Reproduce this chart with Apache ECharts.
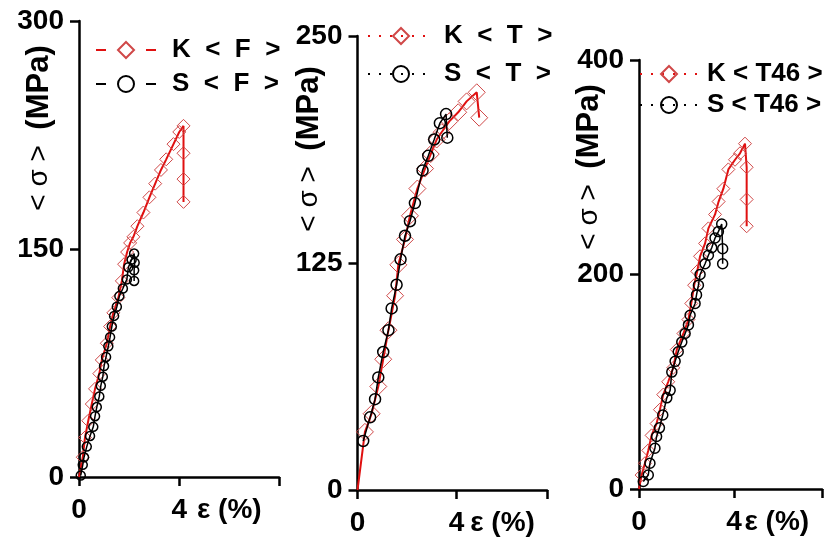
<!DOCTYPE html>
<html><head><meta charset="utf-8">
<script src="https://cdn.jsdelivr.net/npm/echarts@6/dist/echarts.min.js"></script>
<style>html,body{margin:0;padding:0;background:#fff}#c{width:824px;height:538px}</style>
</head><body><div id="c"></div>
<script>
// Panel 1: < F >
const kF_strain = [0,0.15,0.24,0.37,0.51,0.64,0.81,0.91,1.11,1.24,1.37,1.57,1.71,1.80,1.92,2.04,2.17,2.33,2.57,2.81,3.04,3.27,3.48,3.77,4.00,4.17,4.17,4.17,4.17];
const kF_stress = [0,13,26,37,48,58,68,77,88,99,108,118,129,140,148,154,158,165,174,184,193,202,209,219,227,231,213,196,181];
const sF_strain = [0.07,0.15,0.20,0.31,0.44,0.57,0.64,0.71,0.81,0.87,0.95,1.00,1.08,1.17,1.24,1.31,1.40,1.51,1.61,1.75,1.91,1.97,2.10,2.20,2.22,2.20,2.20];
const sF_stress = [1,8,13,20,27,33,40,46,53,60,66,73,79,86,92,99,106,112,119,124,130,138,143,147,141,136,129];
// Panel 2: < T >
const kT_strain = [0,0.30,0.57,0.84,1.04,1.25,1.52,1.65,1.92,2.12,2.42,2.73,2.96,3.20,3.40,3.71,4.07,4.41,4.82,4.92];
const kT_stress = [0,32,42,57,72,88,107,124,138,151,166,177,185,193,197,203,208,214,219,205];
const sT_strain = [0.23,0.51,0.71,0.84,1.04,1.25,1.38,1.58,1.74,1.92,2.12,2.32,2.63,2.86,3.10,3.33,3.58,3.63];
const sT_stress = [27,40,50,62,76,88,100,113,127,140,148,158,176,184,193,202,207,194];
// Panel 3: < T46 >
const kT46_strain = [0,0.11,0.25,0.39,0.53,0.74,0.88,1.02,1.23,1.44,1.59,1.87,2.08,2.20,2.32,2.45,2.57,2.78,2.92,3.20,3.35,3.55,3.76,4.04,4.25,4.46,4.53,4.53,4.53];
const kT46_stress = [0,13,24,36,50,61,74,88,100,113,130,145,158,173,190,203,217,229,243,256,268,280,298,307,313,322,300,270,245];
const sT46_strain = [0.18,0.39,0.46,0.67,0.74,0.86,1.00,1.17,1.31,1.38,1.52,1.65,1.80,1.94,2.08,2.15,2.36,2.42,2.50,2.57,2.78,2.92,3.06,3.20,3.34,3.48,3.52,3.52];
const sT46_stress = [7,13,24,38,49,57,69,85,92,109,119,128,137,145,153,162,173,181,190,200,210,218,225,234,240,247,224,210];

const yTicks = [[0,300,150],[0,250,125],[0,400,200]];
const xTickLabels = ['0','4'];
const names = [['K  <  F  >','S  <  F  >'],['K  <  T  >','S  <  T  >'],['K < T46 >','S < T46 >']];

const FONT = '"Liberation Sans", Arial, sans-serif';
const pairs = (xs, ys) => xs.map((x, i) => (i === 0 && ys[i] === 0) ? {value: [x, ys[i]], symbol: 'none'} : [x, ys[i]]);

const grids = [
  {left:79, top:21, width:200, height:456, outerBoundsMode:'none', containLabel:false},
  {left:357.5, top:36, width:189.5, height:454, outerBoundsMode:'none', containLabel:false},
  {left:639, top:60, width:183, height:429, outerBoundsMode:'none', containLabel:false}
];
const xMax = [7.98, 7.66, 7.7];
const xNamePad = [18, 18, 14];
const yNamePad = [242, 228, 215];
const yNameGap = [24, 33, 34];

const xAxes = grids.map((g, i) => ({
  gridIndex: i, type: 'value', min: 0, max: xMax[i], interval: 4,
  axisLine: {onZero: false, lineStyle: {color: '#000', width: 2.5}},
  axisTick: {length: 9, lineStyle: {color: '#000', width: 2.5}},
  splitLine: {show: false},
  axisLabel: {margin: 19, fontSize: 28, fontWeight: 'bold', color: '#000', fontFamily: FONT,
    formatter: v => xTickLabels.indexOf(String(v)) >= 0 ? String(v) : ''},
  name: 'ε (%)', nameLocation: 'middle', nameGap: 19, nameMoveOverlap: false,
  nameTextStyle: {fontSize: 28, fontWeight: 'bold', color: '#000', fontFamily: FONT, align: 'left', verticalAlign: 'top', padding: [0, 0, 0, xNamePad[i]]}
}));
const yAxes = grids.map((g, i) => ({
  gridIndex: i, type: 'value', min: yTicks[i][0], max: yTicks[i][1], interval: yTicks[i][2],
  axisLine: {onZero: false, lineStyle: {color: '#000', width: 2.5}},
  axisTick: {length: 9, lineStyle: {color: '#000', width: 2.5}},
  splitLine: {show: false},
  axisLabel: {margin: 15, fontSize: 28, fontWeight: 'bold', color: '#000', fontFamily: FONT},
  name: '{n|< σ >}  {b|(MPa)}', nameLocation: 'middle', nameGap: yNameGap[i], nameMoveOverlap: false,
  nameTextStyle: {color: '#000', fontFamily: FONT, fontSize: 28, padding: [0, 0, 0, yNamePad[i]],
    rich: {n: {fontSize: 28, fontWeight: 'normal', color: '#000', fontFamily: FONT},
           b: {fontSize: 31, fontWeight: 'bold', color: '#000', fontFamily: FONT}}}
}));

const kSize = [13, 17, 13], sSize = [9, 11, 10];
const kData = [pairs(kF_strain, kF_stress), pairs(kT_strain, kT_stress), pairs(kT46_strain, kT46_stress)];
const sData = [pairs(sF_strain, sF_stress), pairs(sT_strain, sT_stress), pairs(sT46_strain, sT46_stress)];
const series = [];
for (let i = 0; i < 3; i++) {
  series.push({
    name: names[i][0], type: 'line', xAxisIndex: i, yAxisIndex: i, data: kData[i],
    symbol: 'diamond', symbolSize: kSize[i], showAllSymbol: true,
    lineStyle: {color: '#e01010', width: 2},
    itemStyle: {color: 'rgba(255,255,255,0)', borderColor: '#d04848', borderWidth: 1},
    animation: false, z: 2
  });
  series.push({
    name: names[i][1], type: 'line', xAxisIndex: i, yAxisIndex: i, data: sData[i],
    symbol: 'circle', symbolSize: sSize[i], showAllSymbol: true,
    lineStyle: {color: '#000', width: 1.5},
    itemStyle: {color: 'rgba(255,255,255,0)', borderColor: '#000', borderWidth: 1.5},
    animation: false, z: 3
  });
}
const legendPos = [
  {left: 90, top: 30, itemWidth: 60, itemGap: 4, pad: 11, dash: [10, 40]},
  {left: 362, top: 16, itemWidth: 66, itemGap: 8, pad: 5, dash: [2, 9]},
  {left: 634, top: 54, itemWidth: 58, itemGap: 1, pad: 4, dash: [2, 9]}
];
const legends = legendPos.map((p, i) => ({
  data: names[i], orient: 'vertical', left: p.left, top: p.top,
  itemWidth: p.itemWidth, itemHeight: 20, itemGap: p.itemGap,
  lineStyle: {type: p.dash, width: 2},
  textStyle: {fontSize: 26, fontWeight: 'bold', color: '#000', fontFamily: FONT, lineHeight: 30, padding: [0, 0, 0, p.pad]},
  selectedMode: false
}));

const chart = echarts.init(document.getElementById('c'), null, {renderer: 'canvas'});
chart.setOption({
  animation: false, backgroundColor: '#fff',
  grid: grids, xAxis: xAxes, yAxis: yAxes, legend: legends, series
});
</script></body></html>
